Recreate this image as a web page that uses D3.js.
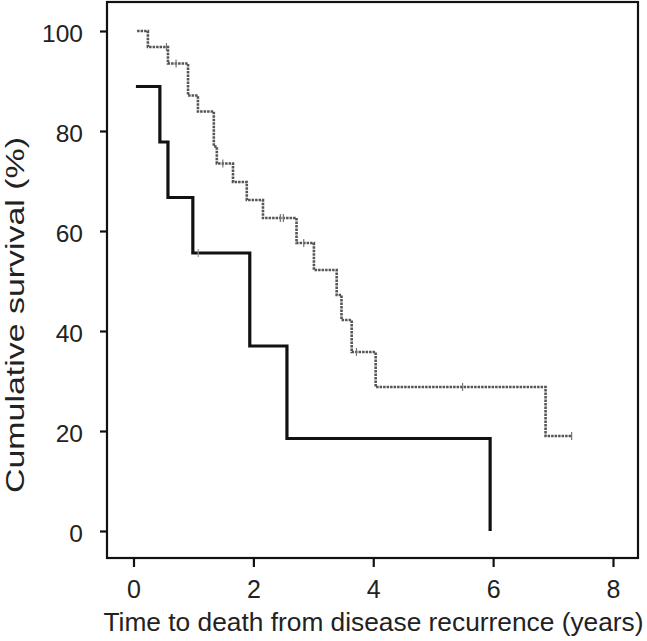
<!DOCTYPE html>
<html>
<head>
<script src="https://d3js.org/d3.v7.min.js"></script>
<style>
  body { margin: 0; background: #fff; }
  text { font-family: "Liberation Sans", Arial, Helvetica, sans-serif; fill: #222; }
</style>
</head>
<body>
<div id="target"></div>
<script>
// group 1 (solid, thick black)
var solidTimes = [0.04, 0.44, 0.575, 0.99, 1.94, 2.56, 5.95];
var solidSurv  = [88.9, 77.8, 66.7, 55.6, 37.0, 18.5, 0];
var solidCensorTimes = [1.08];

// group 2 (dashed, grey)
var dashTimes = [0.06, 0.24, 0.575, 0.91, 1.075, 1.34, 1.39, 1.66, 1.89, 2.16, 2.72, 3.01, 3.39, 3.47, 3.64, 4.04, 6.875];
var dashSurv  = [100, 96.8, 93.5, 87.1, 83.9, 76.9, 73.5, 69.8, 66.2, 62.6, 57.6, 52.2, 47.2, 42.2, 35.8, 28.8, 19.0];
var dashEnd = 7.31;
var dashCensorTimes = [0.55, 0.71, 1.49, 2.45, 2.5, 2.84, 3.72, 5.49, 7.31];

var xTicks = [0, 2, 4, 6, 8];
var yTicks = [0, 20, 40, 60, 80, 100];

var W = 647, H = 641;
var svg = d3.select('#target').append('svg')
    .attr('width', W).attr('height', H);

var x = d3.scaleLinear().domain([0, 8]).range([133.5, 613]);
var y = d3.scaleLinear().domain([0, 100]).range([531, 31]);

var box = {left: 107, right: 638, top: 2, bottom: 558};

// step function value at time t
function survAt(times, surv, t) {
    var v = surv[0];
    for (var i = 0; i < times.length; i++) {
        if (times[i] <= t) v = surv[i];
    }
    return v;
}

// build step paths
function stepPoints(times, surv, end) {
    var pts = [];
    for (var i = 0; i < times.length; i++) {
        if (i > 0) pts.push([times[i], surv[i - 1]]);
        pts.push([times[i], surv[i]]);
    }
    if (end != null) pts.push([end, surv[surv.length - 1]]);
    return pts;
}

var line = d3.line()
    .x(function(d) { return x(d[0]); })
    .y(function(d) { return y(d[1]); });

// dashed group
svg.append('path')
    .datum(stepPoints(dashTimes, dashSurv, dashEnd))
    .attr('d', line)
    .attr('fill', 'none')
    .attr('stroke', '#555')
    .attr('stroke-width', 2.6)
    .attr('stroke-dasharray', '2.5,1');

svg.selectAll('.dcens')
    .data(dashCensorTimes)
    .enter().append('line')
    .attr('class', 'dcens')
    .attr('x1', function(d) { return x(d); })
    .attr('x2', function(d) { return x(d); })
    .attr('y1', function(d) { return y(survAt(dashTimes, dashSurv, d)) - 4; })
    .attr('y2', function(d) { return y(survAt(dashTimes, dashSurv, d)) + 4; })
    .attr('stroke', '#777')
    .attr('stroke-width', 1.2);

// solid group
svg.append('path')
    .datum(stepPoints(solidTimes, solidSurv, null))
    .attr('d', line)
    .attr('fill', 'none')
    .attr('stroke', '#111')
    .attr('stroke-width', 3.2);

svg.selectAll('.scens')
    .data(solidCensorTimes)
    .enter().append('line')
    .attr('class', 'scens')
    .attr('x1', function(d) { return x(d); })
    .attr('x2', function(d) { return x(d); })
    .attr('y1', function(d) { return y(survAt(solidTimes, solidSurv, d)) - 4; })
    .attr('y2', function(d) { return y(survAt(solidTimes, solidSurv, d)) + 4; })
    .attr('stroke', '#999')
    .attr('stroke-width', 1.2);

// frame
svg.append('rect')
    .attr('x', box.left).attr('y', box.top)
    .attr('width', box.right - box.left)
    .attr('height', box.bottom - box.top)
    .attr('fill', 'none')
    .attr('stroke', '#111')
    .attr('stroke-width', 2.2);

// axes
var xAxis = d3.axisBottom(x).tickValues(xTicks).tickSize(9).tickPadding(13);
var gx = svg.append('g')
    .attr('transform', 'translate(0,' + box.bottom + ')')
    .call(xAxis);
gx.select('.domain').remove();
gx.selectAll('line').attr('stroke', '#111').attr('stroke-width', 2.2);
gx.selectAll('text').style('font-size', '25px').attr('fill', '#222');

var yAxis = d3.axisLeft(y).tickValues(yTicks).tickSize(7).tickPadding(17);
var gy = svg.append('g')
    .attr('transform', 'translate(' + box.left + ',0)')
    .call(yAxis);
gy.select('.domain').remove();
gy.selectAll('line').attr('stroke', '#111').attr('stroke-width', 2.2);
gy.selectAll('text').style('font-size', '24.5px').attr('dy', '0.42em').attr('fill', '#222');

// axis titles
svg.append('text')
    .attr('x', 373.5).attr('y', 631)
    .attr('text-anchor', 'middle')
    .attr('textLength', 540)
    .attr('lengthAdjust', 'spacingAndGlyphs')
    .style('font-size', '26px')
    .text('Time to death from disease recurrence (years)');

svg.append('text')
    .attr('transform', 'translate(24,315)rotate(-90)')
    .attr('text-anchor', 'middle')
    .attr('textLength', 356)
    .attr('lengthAdjust', 'spacingAndGlyphs')
    .style('font-size', '25px')
    .text('Cumulative survival (%)');
</script>
</body>
</html>
